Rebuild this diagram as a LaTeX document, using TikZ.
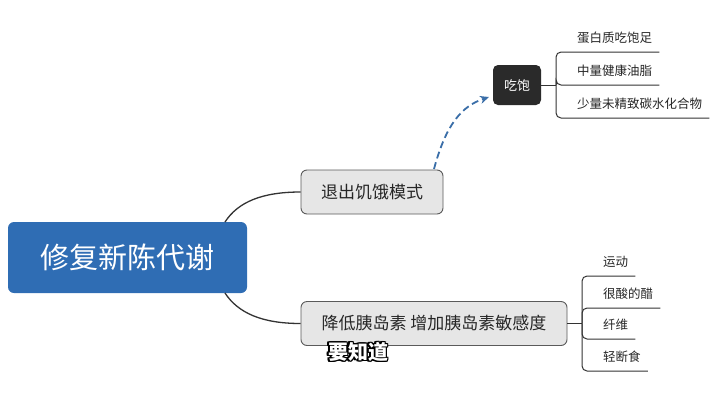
\documentclass[tikz,border=0pt]{standalone}
\usepackage{fontspec}
\setmainfont{Noto Sans CJK SC}
\usepackage{tikz}
\usetikzlibrary{arrows.meta}

\definecolor{rootblue}{HTML}{2F6DB4}
\definecolor{topicgray}{HTML}{E6E6E6}
\definecolor{framegray}{HTML}{5A5A5A}
\definecolor{darkbox}{HTML}{2A2A2A}
\definecolor{linkgray}{HTML}{333333}
\definecolor{dashblue}{HTML}{3A6EA8}

\tikzset{
  rootbox/.style={fill=rootblue, rounded corners=6pt, text=white,
    minimum width=239pt, minimum height=71pt, font=\fontsize{29}{31}\selectfont},
  topicbox/.style={draw=framegray, line width=0.9pt, fill=topicgray, rounded corners=6pt,
    text=black!85, minimum height=44pt, font=\fontsize{17}{19}\selectfont},
  fullbox/.style={fill=darkbox, rounded corners=5pt, text=white,
    minimum width=48pt, minimum height=40pt, font=\fontsize{13}{15}\selectfont},
  leaf/.style={anchor=south west, inner xsep=7pt, inner ysep=6pt,
    text height=10pt, text depth=3pt, text=black!85, font=\fontsize{12.5}{14}\selectfont},
  link/.style={draw=linkgray, line width=1.3pt},
  fork/.style={draw=linkgray, line width=1pt, rounded corners=5pt},
  subtitle/.style={font=\fontsize{20}{22}\selectfont\bfseries}
}

\begin{document}
\begin{tikzpicture}[x=1pt,y=-1pt]
  \useasboundingbox (0,0) rectangle (720,405);

  % main topic and the two branches
  \node[rootbox] (root) at (127.5,257.5) {修复新陈代谢};
  \node[topicbox, minimum width=142pt] (exit) at (372,192) {退出饥饿模式};
  \node[topicbox, minimum width=266pt] (insulin) at (434,323.5) {降低胰岛素 增加胰岛素敏感度};
  \node[fullbox] (full) at (517,85) {吃饱};

  \coordinate (roottop) at (225,222);
  \coordinate (rootbot) at (225,293);
  \draw[link] (roottop) .. controls (238,202) and (262,192) .. (exit.west);
  \draw[link] (rootbot) .. controls (238,313) and (262,323.5) .. (insulin.west);

  % dashed jump to the subtopic
  \coordinate (dashstart) at (434,169);
  \draw[draw=dashblue, line width=1.8pt, dash pattern=on 7pt off 4pt, -{Stealth[length=9pt,width=8pt]}]
    (dashstart) .. controls (446,124) and (462,106) .. (489,97);

  % leaves of 吃饱
  \coordinate (fullj) at (556,85);
  \node[leaf] (leafA) at (570,52) {蛋白质吃饱足};
  \node[leaf] (leafB) at (570,85) {中量健康油脂};
  \node[leaf] (leafC) at (570,118) {少量未精致碳水化合物};
  \draw[link, line width=1pt] (full.east) -- (fullj);
  \foreach \lf in {leafA,leafB,leafC}
    \draw[fork] (fullj) |- (\lf.south east);

  % leaves of the insulin branch
  \coordinate (insj) at (582,323.5);
  \node[leaf] (leafD) at (596,276) {运动};
  \node[leaf] (leafE) at (596,308) {很酸的醋};
  \node[leaf] (leafF) at (596,339) {纤维};
  \node[leaf] (leafG) at (596,371) {轻断食};
  \draw[link, line width=1pt] (insulin.east) -- (insj);
  \foreach \lf in {leafD,leafE,leafF,leafG}
    \draw[fork] (insj) |- (\lf.south east);

  % subtitle with outline
  \foreach \a in {0,30,...,330}
    \node[subtitle, text=black, shift={(\a:1.3pt)}] at (358,352) {要知道};
  \node[subtitle, text=white] (sub) at (358,352) {要知道};
\end{tikzpicture}
\end{document}
